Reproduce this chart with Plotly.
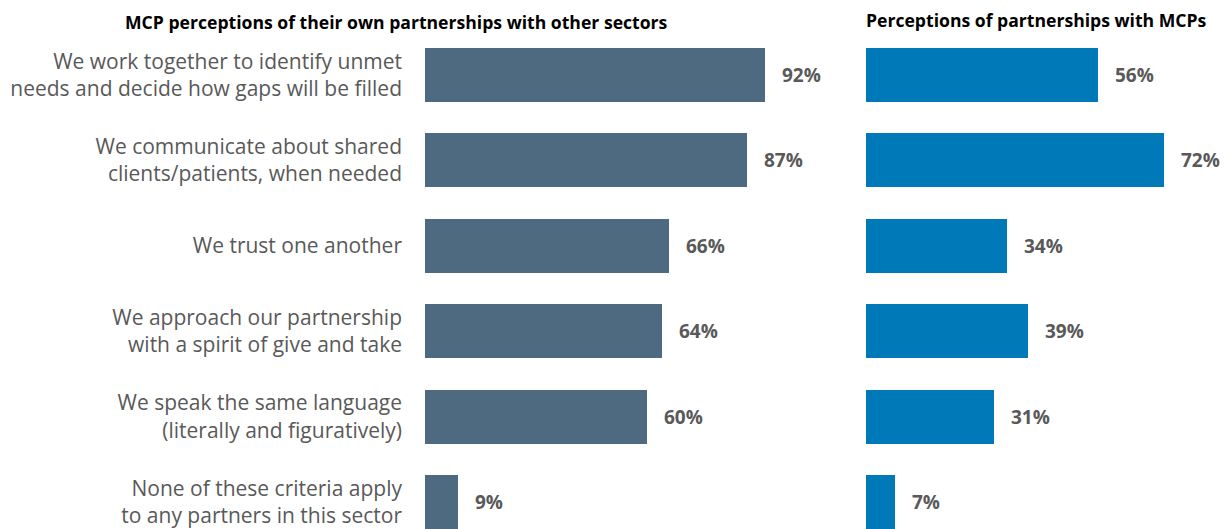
import plotly.graph_objects as go

# Survey statements (top to bottom) and share of respondents agreeing
statements = [
    "We work together to identify unmet<br>needs and decide how gaps will be filled",
    "We communicate about shared<br>clients/patients, when needed",
    "We trust one another",
    "We approach our partnership<br>with a spirit of give and take",
    "We speak the same language<br>(literally and figuratively)",
    "None of these criteria apply<br>to any partners in this sector",
]
mcp_own = [92, 87, 66, 64, 60, 9]
partners_view = [56, 72, 34, 39, 31, 7]

title_left = "MCP perceptions of their own partnerships with other sectors"
title_right = "Perceptions of partnerships with MCPs"

W, H = 1229, 529
LEFT_COLOR = "#4D6A80"
RIGHT_COLOR = "#0079B8"
TEXT_GRAY = "#595959"
FONT = "Open Sans"

pos = list(range(len(statements)))

fig = go.Figure()
fig.add_trace(go.Bar(
    x=mcp_own, y=pos, orientation="h", width=0.632,
    marker=dict(color=LEFT_COLOR, line=dict(width=0)),
    xaxis="x", yaxis="y", hoverinfo="skip",
))
fig.add_trace(go.Bar(
    x=partners_view, y=pos, orientation="h", width=0.632,
    marker=dict(color=RIGHT_COLOR, line=dict(width=0)),
    xaxis="x2", yaxis="y2", hoverinfo="skip",
))

# value labels just past each bar end
for v, p in zip(mcp_own, pos):
    fig.add_annotation(x=v, y=p, xref="x", yref="y", text=f"<b>{v}%</b>",
                       showarrow=False, xanchor="left", xshift=15,
                       font=dict(family=FONT, size=19, color=TEXT_GRAY))
for v, p in zip(partners_view, pos):
    fig.add_annotation(x=v, y=p, xref="x2", yref="y2", text=f"<b>{v}%</b>",
                       showarrow=False, xanchor="left", xshift=15,
                       font=dict(family=FONT, size=19, color=TEXT_GRAY))

# panel titles
fig.add_annotation(x=396 / W, y=1 - 22 / H, xref="paper", yref="paper",
                   text=f"<b>{title_left}</b>", showarrow=False,
                   xanchor="center", yanchor="middle",
                   font=dict(family=FONT, size=17.6, color="#000000"))
fig.add_annotation(x=1036 / W, y=1 - 20 / H, xref="paper", yref="paper",
                   text=f"<b>{title_right}</b>", showarrow=False,
                   xanchor="center", yanchor="middle",
                   font=dict(family=FONT, size=17.6, color="#000000"))

# pixel geometry of the two panels
x1_left, x1_right = 425, 840
x2_left, x2_right = 866, 1229
px_per_pct_1 = (765 - 425) / 92
px_per_pct_2 = (1098 - 866) / 56
y_range = [5.316, -0.878]

fig.update_layout(
    width=W, height=H,
    margin=dict(l=0, r=0, t=0, b=0),
    paper_bgcolor="white", plot_bgcolor="white",
    showlegend=False, bargap=0,
    xaxis=dict(domain=[x1_left / W, x1_right / W],
               range=[0, (x1_right - x1_left) / px_per_pct_1],
               visible=False, fixedrange=True),
    yaxis=dict(domain=[0, 1], range=y_range, tickvals=pos, ticktext=statements,
               showgrid=False, zeroline=False, showline=False, ticks="",
               ticklabelstandoff=22, ticklabeloverflow="allow",
               tickfont=dict(family=FONT, size=21, color=TEXT_GRAY),
               fixedrange=True),
    xaxis2=dict(domain=[x2_left / W, x2_right / W],
                range=[0, (x2_right - x2_left) / px_per_pct_2],
                visible=False, fixedrange=True, anchor="y2"),
    yaxis2=dict(domain=[0, 1], range=y_range, visible=False,
                anchor="x2", fixedrange=True),
)

fig.write_html("out.html")
